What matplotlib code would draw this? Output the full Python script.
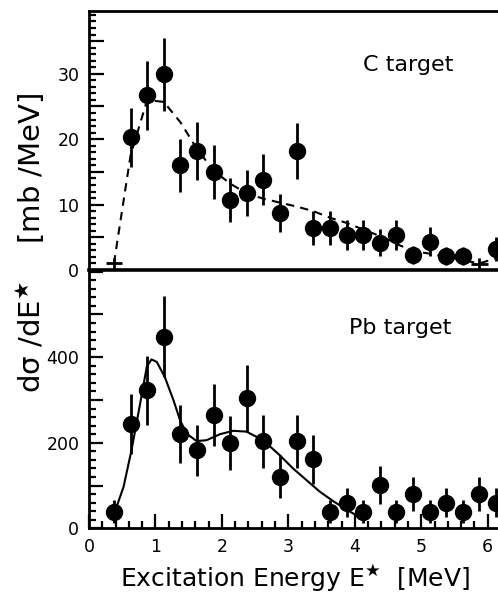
import numpy as np
import matplotlib
matplotlib.use("Agg")
import matplotlib.pyplot as plt
from matplotlib.ticker import MultipleLocator, FuncFormatter

# C target: data points
c_x = [0.625, 0.875, 1.125, 1.375, 1.625, 1.875, 2.125, 2.375, 2.625, 2.875,
       3.125, 3.375, 3.625, 3.875, 4.125, 4.375, 4.625, 4.875, 5.125, 5.375,
       5.625, 6.125]
c_y = [20.3, 26.7, 29.9, 16.0, 18.2, 15.0, 10.7, 11.8, 13.8, 8.65,
       18.2, 6.4, 6.4, 5.3, 5.3, 4.2, 5.4, 2.3, 4.3, 2.1,
       2.1, 3.2]
c_err = [4.5, 5.3, 5.6, 4.1, 4.4, 4.1, 3.3, 3.5, 3.9, 2.9,
         4.3, 2.6, 2.6, 2.3, 2.3, 2.1, 2.3, 1.4, 2.2, 1.4,
         1.4, 1.8]
# C target: low bins drawn as crosses
c_low_x = [0.375, 5.875]
c_low_y = [1.0, 0.9]
c_low_err = [0.9, 0.9]

# C target: calculation (dashed)
c_model_x = [0.375, 0.625, 0.875, 1.125, 1.375, 1.625, 1.875, 2.125, 2.375,
             2.625, 2.875, 3.125, 3.375, 3.625, 3.875, 4.125, 4.375, 4.625,
             4.875, 5.125, 5.375, 5.625, 5.875, 6.125]
c_model_y = [1.0, 17.5, 26.0, 25.7, 22.6, 18.5, 15.2, 13.2, 11.7,
             10.9, 10.3, 9.7, 9.0, 8.0, 7.2, 6.2, 5.2, 4.0,
             2.9, 2.5, 2.0, 1.5, 1.0, 1.8]

# Pb target: data points
pb_x = [0.375, 0.625, 0.875, 1.125, 1.375, 1.625, 1.875, 2.125, 2.375, 2.625,
        2.875, 3.125, 3.375, 3.625, 3.875, 4.125, 4.375, 4.625, 4.875, 5.125,
        5.375, 5.625, 5.875, 6.125]
pb_y = [39, 244, 323, 448, 221, 182, 265, 200, 304, 203,
        121, 203, 161, 39, 60, 39, 101, 39, 80, 39,
        60, 39, 80, 60]
pb_err = [27, 70, 81, 95, 68, 60, 72, 63, 79, 63,
          50, 63, 58, 27, 34, 27, 45, 27, 40, 27,
          34, 27, 40, 34]

# Pb target: calculation (solid line)
pb_model_x = [0.39, 0.52, 0.64, 0.77, 0.87, 0.94, 1.02, 1.14, 1.27, 1.37,
              1.47, 1.62, 1.77, 1.97, 2.17, 2.37, 2.52, 2.67, 2.87, 3.07,
              3.27, 3.47, 3.67, 3.87, 4.05]
pb_model_y = [39, 97, 183, 292, 378, 395, 389, 354, 300, 253,
              221, 204, 206, 220, 228, 226, 214, 199, 171, 140,
              113, 86, 64, 44, 28]

W, H = 498, 597
fig = plt.figure(figsize=(W / 100, H / 100), dpi=100)

left = 89 / W
width = 412 / W
y_top = 1 - 11 / H
y_mid = 1 - 270 / H
y_bot = 1 - 528.3 / H

ax2 = fig.add_axes([left, y_bot, width, y_mid - y_bot])
ax1 = fig.add_axes([left, y_mid, width, y_top - y_mid])
ax1.patch.set_visible(False)

for ax in (ax1, ax2):
    ax.set_xlim(0, 6.2)
    ax.spines["right"].set_visible(False)
    for s in ("left", "top", "bottom"):
        ax.spines[s].set_linewidth(2.0)
    ax.tick_params(which="both", direction="in", width=1.6, colors="black",
                   labelsize=12.5, right=False, top=False)

# upper panel
ax1.plot(c_model_x, c_model_y, color="black", lw=1.5, dashes=(4, 3), zorder=2)
ax1.errorbar(c_x, c_y, yerr=c_err, fmt="o", color="black", ms=11.5,
             elinewidth=2.0, capsize=0, zorder=3)
ax1.errorbar(c_low_x, c_low_y, yerr=c_low_err, xerr=0.125, fmt="none",
             ecolor="black", elinewidth=2.0, capsize=0, zorder=3)
ax1.set_ylim(0, 39.6)
ax1.yaxis.set_major_locator(MultipleLocator(5))
ax1.yaxis.set_minor_locator(MultipleLocator(1))
ax1.yaxis.set_major_formatter(FuncFormatter(
    lambda v, p: f"{v:.0f}" if round(v) % 10 == 0 else ""))
ax1.tick_params(axis="y", which="major", length=11, pad=7)
ax1.tick_params(axis="y", which="minor", length=5)
ax1.tick_params(axis="x", which="both", bottom=False, labelbottom=False)
ax1.spines["bottom"].set_linewidth(2.6)
ax1.text(4.8, 31.4, "C target", fontsize=16, ha="center", va="center")

# lower panel
ax2.plot(pb_model_x, pb_model_y, color="black", lw=1.5, zorder=2)
ax2.errorbar(pb_x, pb_y, yerr=pb_err, fmt="o", color="black", ms=11.5,
             elinewidth=2.0, capsize=0, zorder=3)
ax2.set_ylim(0, 604)
ax2.spines["top"].set_visible(False)
ax2.yaxis.set_major_locator(MultipleLocator(100))
ax2.yaxis.set_minor_locator(MultipleLocator(20))
ax2.yaxis.set_major_formatter(FuncFormatter(
    lambda v, p: f"{v:.0f}" if round(v) % 200 == 0 and v < 600 else ""))
ax2.xaxis.set_major_locator(MultipleLocator(1))
ax2.xaxis.set_minor_locator(MultipleLocator(0.2))
ax2.tick_params(which="major", length=10, pad=7)
ax2.tick_params(which="minor", length=5)
ax2.text(4.69, 468, "Pb target", fontsize=16, ha="center", va="center")
ax2.set_xlabel("Excitation Energy E$^{\\bigstar}$  [MeV]", fontsize=18,
               labelpad=4)

fig.text(30 / W, 1 - 243 / H, "dσ /dE$^{\\bigstar}$    [mb /MeV]",
         rotation=90, fontsize=21, ha="center", va="center")

fig.savefig("out.png", dpi=100)
